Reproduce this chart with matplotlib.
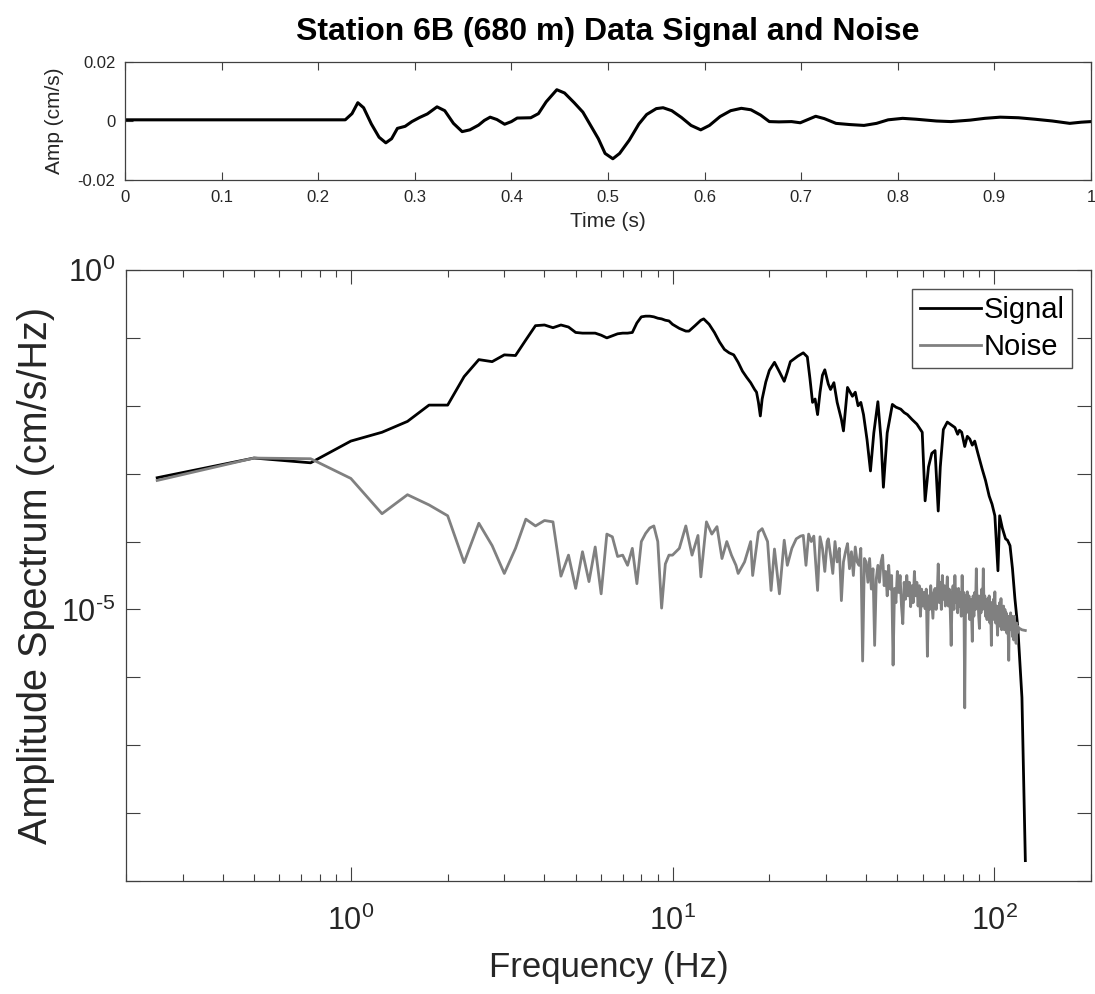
import numpy as np
import matplotlib
matplotlib.use("Agg")
import matplotlib.pyplot as plt
from matplotlib.ticker import FixedLocator, FuncFormatter, LogLocator, NullFormatter

plt.rcParams['font.family'] = ['Liberation Sans', 'DejaVu Sans']
plt.rcParams['mathtext.fontset'] = 'custom'
plt.rcParams['mathtext.rm'] = 'Liberation Sans'
plt.rcParams['mathtext.it'] = 'Liberation Sans'
plt.rcParams['axes.unicode_minus'] = False

# ---------------- data: time series ----------------
time_s = [0.0, 0.1, 0.2, 0.228, 0.235, 0.241, 0.247, 0.255, 0.263, 0.27, 0.276, 0.282,
          0.29, 0.297, 0.305, 0.313, 0.323, 0.331, 0.34, 0.349, 0.357, 0.366, 0.372,
          0.378, 0.385, 0.393, 0.4, 0.406, 0.42, 0.428, 0.436, 0.447, 0.455, 0.465,
          0.474, 0.482, 0.49, 0.497, 0.505, 0.512, 0.522, 0.532, 0.54, 0.55, 0.557,
          0.566, 0.576, 0.586, 0.596, 0.605, 0.616, 0.627, 0.638, 0.648, 0.658, 0.667,
          0.677, 0.69, 0.699, 0.707, 0.715, 0.724, 0.736, 0.75, 0.765, 0.778, 0.79,
          0.805, 0.819, 0.84, 0.855, 0.875, 0.89, 0.906, 0.925, 0.942, 0.96, 0.978,
          0.99, 1.0]
amp_cms = [0.0004, 0.0004, 0.0004, 0.0004, 0.0025, 0.0062, 0.0045, -0.001, -0.0055,
           -0.0074, -0.006, -0.0025, -0.0018, -0.0002, 0.0012, 0.0024, 0.0048, 0.0035,
           -0.0008, -0.0036, -0.003, -0.0014, 0.0002, 0.0013, 0.0005, -0.0011, -0.0002,
           0.001, 0.0011, 0.0025, 0.0065, 0.0106, 0.0095, 0.0062, 0.003, -0.0015, -0.006,
           -0.011, -0.0128, -0.011, -0.0065, -0.001, 0.0022, 0.0042, 0.0045, 0.0035,
           0.0012, -0.0015, -0.003, -0.0015, 0.0015, 0.0035, 0.0043, 0.0038, 0.002,
           -0.0002, -0.0003, -0.0002, -0.0006, 0.0005, 0.0016, 0.0008, -0.0008, -0.0012,
           -0.0015, -0.0008, 0.0004, 0.0009, 0.0006, 0.0, -0.0002, 0.0003, 0.0009,
           0.0013, 0.0011, 0.0006, 0.0, -0.0008, -0.0004, -0.0002]

# ---------------- data: signal spectrum (freq Hz, log10 amplitude) ----------------
signal_freq = [0.25, 0.5, 0.75, 1.0, 1.25, 1.5, 1.75, 2.0, 2.25, 2.5, 2.75, 3.0, 3.25, 3.5,
               3.75, 4.0, 4.25, 4.5, 4.75, 5.0, 5.25, 5.5, 5.75, 6.0, 6.25, 6.5, 6.75, 7.0,
               7.25, 7.5, 7.75, 8.0, 8.25, 8.5, 8.75, 9.0, 9.25, 9.5, 9.75, 10.0, 10.5,
               11.0, 11.25, 11.75, 12.25, 12.5, 13.0, 13.5, 14.0, 14.5, 15.0, 15.5, 16.0,
               16.5, 17.0, 17.5, 18.0, 18.25, 18.5, 18.75, 19.0, 19.5, 20.0, 20.75, 21.5,
               22.25, 22.75, 23.25, 24.5, 25.5, 26.25, 26.75, 27.25, 27.75, 28.25, 28.75,
               29.25, 29.75, 30.5, 31.0, 31.75, 32.5, 33.5, 34.0, 35.0, 36.25, 37.0, 37.75,
               38.5, 39.25, 40.25, 41.25, 42.25, 43.5, 44.5, 45.25, 46.5, 48.25, 49.5,
               51.25, 52.5, 53.75, 55.5, 57.5, 59.75, 61.0, 62.5, 64.0, 65.5, 67.0, 68.0,
               69.5, 71.5, 73.5, 75.5, 77.0, 78.0, 79.25, 81.0, 82.5, 84.0, 85.5, 87.0,
               89.0, 91.75, 94.0, 96.5, 98.5, 100.5, 102.75, 104.0, 106.0, 108.5, 110.0,
               112.0, 114.0, 116.0, 118.5, 122.0, 125.0]
signal_log = [-3.06, -2.77, -2.84, -2.52, -2.39, -2.23, -1.99, -1.99, -1.57, -1.32, -1.35,
              -1.25, -1.26, -1.03, -0.82, -0.81, -0.85, -0.81, -0.84, -0.92, -0.93, -0.93,
              -0.93, -0.96, -1.0, -0.97, -0.94, -0.93, -0.93, -0.92, -0.78, -0.69, -0.68,
              -0.68, -0.69, -0.71, -0.72, -0.74, -0.75, -0.8, -0.86, -0.9, -0.9, -0.82,
              -0.74, -0.72, -0.8, -0.92, -1.06, -1.17, -1.22, -1.25, -1.36, -1.49, -1.58,
              -1.66, -1.76, -1.8, -1.95, -2.15, -1.9, -1.65, -1.48, -1.36, -1.5, -1.64,
              -1.5, -1.35, -1.27, -1.22, -1.28, -1.6, -1.95, -1.9, -2.13, -1.8, -1.55,
              -1.47, -1.68, -1.76, -1.66, -1.95, -2.2, -2.37, -1.73, -1.86, -1.8, -2.0,
              -1.95, -2.13, -2.5, -2.96, -2.4, -1.94, -2.5, -3.2, -2.4, -1.98, -2.02,
              -2.05, -2.1, -2.13, -2.2, -2.27, -2.39, -3.4, -2.9, -2.7, -2.66, -3.55, -2.9,
              -2.35, -2.24, -2.28, -2.32, -2.42, -2.36, -2.39, -2.6, -2.45, -2.49, -2.58,
              -2.52, -2.7, -2.93, -3.1, -3.33, -3.45, -3.62, -4.43, -3.62, -3.8, -3.96,
              -3.98, -4.06, -4.4, -4.84, -5.28, -6.3, -8.7]

# ---------------- data: noise spectrum (freq Hz, log10 amplitude) ----------------
noise_freq = [0.25, 0.5, 0.75, 1.0, 1.25, 1.5, 1.75, 2.0, 2.25, 2.5, 2.75, 3.0, 3.25, 3.5,
              3.75, 4.0, 4.25, 4.5, 4.75, 5.0, 5.25, 5.5, 5.75, 6.0, 6.25, 6.5, 6.75, 7.0,
              7.25, 7.5, 7.75, 8.0, 8.25, 8.5, 8.75, 9.0, 9.25, 9.5, 9.75, 10.0, 10.5,
              11.0, 11.5, 12.0, 12.25, 12.75, 13.25, 13.75, 14.25, 14.75, 15.25, 15.75,
              16.0, 16.75, 17.5, 17.75, 18.5, 19.0, 19.75, 20.25, 20.75, 21.5, 22.25,
              22.75, 23.5, 24.25, 25.0, 25.5, 26.0, 26.5, 27.0, 27.5, 28.25, 28.75, 29.25,
              29.75, 30.25, 30.5, 31.0, 31.5, 32.0, 32.5, 33.0, 33.5, 34.0, 34.5,
              35.0, 35.5, 36.0, 36.5, 37.0, 37.5, 38.0, 38.5, 39.0, 39.5, 40.0, 40.5,
              41.0, 41.5, 42.0, 42.5, 43.0, 43.5, 44.0, 44.5, 45.0, 45.5, 46.0, 46.5,
              47.0, 47.5, 48.0, 48.5, 49.0, 49.5, 50.0, 50.5, 51.0, 51.5, 52.0, 52.5,
              53.0, 53.5, 54.0, 54.5, 55.0, 55.5, 56.0, 56.5, 57.0, 57.5, 58.0, 58.5,
              59.0, 59.5, 60.0, 60.5, 61.0, 61.5, 62.0, 62.5, 63.0, 63.5, 64.0, 64.5,
              65.0, 65.5, 66.0, 66.5, 67.0, 67.5, 68.0, 68.5, 69.0, 69.5, 70.0, 70.5,
              71.0, 71.5, 72.0, 72.5, 73.0, 73.5, 74.0, 74.5, 75.0, 75.5, 76.0, 76.5,
              77.0, 77.5, 78.0, 78.5, 79.0, 79.5, 80.0, 80.5, 81.0, 81.5, 82.0, 82.5,
              83.0, 83.5, 84.0, 84.5, 85.0, 85.5, 86.0, 86.5, 87.0, 87.5, 88.0, 88.5,
              89.0, 89.5, 90.0, 90.5, 91.0, 91.5, 92.0, 92.5, 93.0, 93.5, 94.0, 94.5,
              95.0, 95.5, 96.0, 96.5, 97.0, 97.5, 98.0, 98.5, 99.0, 99.5, 100.0, 100.5,
              101.0, 101.5, 102.0, 102.5, 103.0, 103.5, 104.0, 104.5, 105.0, 105.5,
              106.0, 106.5, 107.0, 107.5, 108.0, 108.5, 109.0, 109.5, 110.0, 110.5,
              111.0, 111.5, 112.0, 112.5, 113.0, 113.5, 114.0, 114.5, 115.0, 115.5,
              116.0, 116.5, 117.0, 117.5, 118.0, 118.5, 119.0, 120.0, 122.0, 125.0]
noise_log = [-3.1, -2.77, -2.78, -3.07, -3.59, -3.31, -3.46, -3.62, -4.31, -3.73, -4.06,
             -4.47, -4.1, -3.67, -3.77, -3.69, -3.71, -4.51, -4.2, -4.69, -4.15, -4.59,
             -4.08, -4.77, -3.89, -3.93, -4.22, -4.2, -4.35, -4.1, -4.62, -4.0, -3.88,
             -3.8, -3.77, -4.0, -4.98, -4.33, -4.2, -4.2, -4.1, -3.77, -4.2, -3.91, -4.52,
             -3.71, -3.89, -3.78, -4.25, -4.0, -4.2, -4.35, -4.47, -4.3, -4.0, -4.5,
             -3.86, -3.81, -4.0, -4.72, -4.11, -4.77, -3.98, -4.35, -4.1, -3.96, -3.92,
             -3.91, -4.35, -3.89, -4.0, -3.92, -4.72, -3.93, -4.1, -4.44, -4.0, -3.96,
             -4.2, -4.47, -4.0, -4.3, -4.1, -4.87, -4.3, -4.15,
             -4.03, -4.4, -4.15, -4.5, -4.08, -4.3, -4.35, -4.1, -5.76, -4.25, -4.3, -4.6,
             -4.25, -4.7, -4.4, -5.53, -4.55, -4.35, -4.6, -4.3, -4.2, -4.65, -4.44, -4.8,
             -4.35, -4.7, -4.5, -5.82, -4.69, -4.9, -4.44, -4.75, -4.5, -4.95, -5.21, -4.6,
             -4.85, -4.5, -4.8, -4.6, -4.96, -4.65, -4.9, -4.44, -4.8, -4.6, -4.95, -4.65,
             -5.1, -4.7, -4.95, -4.75, -4.99, -4.7, -5.69, -4.8, -5.0, -4.65, -4.9, -5.13,
             -4.75, -4.69, -5.0, -4.8, -4.33, -4.9, -4.6, -5.0, -4.5, -4.85, -4.65, -4.95,
             -4.79, -4.52, -4.95, -4.7, -5.0, -5.53, -4.8, -4.65, -5.0, -4.5, -4.9, -4.7,
             -5.05, -4.69, -4.95, -4.75, -5.1, -4.5, -4.9, -4.75, -6.45, -4.8, -5.05, -4.74,
             -5.0, -4.8, -5.15, -4.85, -5.05, -5.47, -4.8, -5.1, -4.75, -5.0, -4.4, -4.95,
             -4.8, -5.1, -5.28, -4.8, -5.05, -4.7, -5.0, -4.4, -4.95, -4.8, -5.1, -4.85,
             -5.15, -4.84, -5.1, -4.8, -5.2, -4.9, -5.53, -4.9, -5.15, -4.85, -5.1, -4.74,
             -5.2, -4.95, -5.15, -5.38, -4.95, -5.2, -4.9, -5.25, -4.84, -5.3,
             -5.0, -5.2, -4.95, -5.3, -5.0, -5.25, -5.05, -5.35, -5.1, -5.3,
             -5.75, -5.1, -5.3, -5.05, -5.25, -5.1, -5.4, -5.15, -5.45, -5.1,
             -5.3, -5.2, -5.5, -5.2, -5.35, -5.25, -5.3, -5.28, -5.3, -5.31]

title_text = "Station 6B (680 m) Data Signal and Noise"
spine_col = '#404040'
text_col = '#262626'

fig = plt.figure(figsize=(10.95, 9.94), dpi=100)

# ---------------- top panel ----------------
ax1 = fig.add_axes([125/1095, 1-180/994, (1091-125)/1095, (180-62)/994])
ax1.plot(time_s, amp_cms, color='black', lw=2.2)
ax1.set_xlim(0, 1)
ax1.set_ylim(-0.02, 0.02)
ax1.set_xticks(np.arange(0, 1.01, 0.1))
ax1.set_xticklabels(['0', '0.1', '0.2', '0.3', '0.4', '0.5', '0.6', '0.7', '0.8', '0.9', '1'])
ax1.set_yticks([-0.02, 0, 0.02])
ax1.set_yticklabels(['-0.02', '0', '0.02'])
ax1.tick_params(direction='in', top=True, right=True, length=6, width=0.8,
                labelsize=12, colors=spine_col, labelcolor=text_col, pad=7)
ax1.set_xlabel('Time (s)', fontsize=15, color=text_col, labelpad=5)
ax1.set_ylabel('Amp (cm/s)', fontsize=15, color=text_col, labelpad=10)
for s in ax1.spines.values():
    s.set_color(spine_col)
    s.set_linewidth(0.9)
ax1.set_title(title_text, fontsize=23, fontweight='bold', pad=16)

# ---------------- bottom panel ----------------
ax2 = fig.add_axes([126/1095, 1-881/994, (1091-126)/1095, (881-270)/994])
ax2.loglog(signal_freq, 10.0 ** np.array(signal_log), color='black', lw=2.0, label='Signal')
ax2.loglog(noise_freq, 10.0 ** np.array(noise_log), color='#808080', lw=2.0, label='Noise')
ax2.set_xlim(0.2, 200)
ax2.set_ylim(1e-9, 1)

def pow_label(k):
    if k < 0:
        return r'$\mathregular{10^{\text{-}%d}}$' % (-k)
    return r'$\mathregular{10^{%d}}$' % k

ax2.xaxis.set_major_locator(FixedLocator([1, 10, 100]))
ax2.xaxis.set_major_formatter(FuncFormatter(lambda v, p: pow_label(int(round(np.log10(v))))))
ax2.xaxis.set_minor_locator(LogLocator(base=10, subs=np.arange(2, 10), numticks=20))
ax2.xaxis.set_minor_formatter(NullFormatter())

ax2.yaxis.set_major_locator(FixedLocator([10.0 ** k for k in range(-9, 1)]))
def ylab(v, p):
    k = int(round(np.log10(v)))
    return pow_label(k) if k in (0, -5) else ''
ax2.yaxis.set_major_formatter(FuncFormatter(ylab))
ax2.yaxis.set_minor_locator(FixedLocator([]))

ax2.tick_params(which='major', direction='in', top=True, right=True, length=10, width=0.8,
                labelsize=22, colors=spine_col, labelcolor=text_col)
ax2.tick_params(axis='x', which='major', pad=18)
ax2.tick_params(axis='y', which='major', pad=8)
ax2.tick_params(which='minor', direction='in', top=True, right=True, length=5, width=0.8,
                colors=spine_col)
ax2.set_xlabel('Frequency (Hz)', fontsize=25, color=text_col, labelpad=10)
ax2.set_ylabel('Amplitude Spectrum (cm/s/Hz)', fontsize=28.5, color=text_col, labelpad=4)
for s in ax2.spines.values():
    s.set_color(spine_col)
    s.set_linewidth(0.9)

leg = ax2.legend(loc='upper right', fontsize=21, frameon=True, fancybox=False,
                 handlelength=2.1, handletextpad=0.1, borderpad=0.25, labelspacing=0.3,
                 borderaxespad=0.65)
leg.get_frame().set_edgecolor(text_col)
leg.get_frame().set_linewidth(1.0)

fig.savefig('out.png', dpi=100)
